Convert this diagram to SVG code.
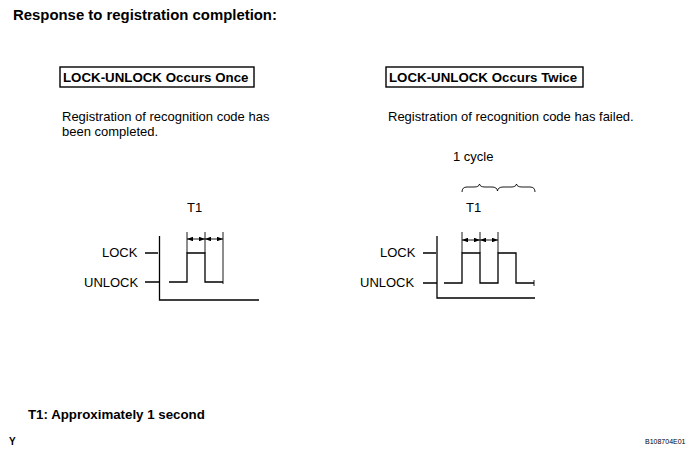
<svg xmlns="http://www.w3.org/2000/svg" width="695" height="456" viewBox="0 0 695 456">
<defs>
<style>
text{font-family:"Liberation Sans",Arial,sans-serif;fill:#000}
.b{font-weight:bold}
.t{font-size:13px}
.bt{font-size:13.3px}
.ln{fill:none;stroke:#000;stroke-width:1.3}
.dim{fill:none;stroke:#000;stroke-width:0.9}
.box{fill:#fff;stroke:#000;stroke-width:1.4}
</style>
<marker id="ah" viewBox="0 0 8 6" refX="8" refY="3" markerWidth="6" markerHeight="4.5" orient="auto-start-reverse" markerUnits="userSpaceOnUse">
<path d="M0,0 L8,3 L0,6 z" fill="#000"/>
</marker>
</defs>
<rect width="695" height="456" fill="#fff"/>
<text id="title" class="b" x="13" y="20" font-size="14.9">Response to registration completion:</text>

<g id="once">
<rect class="box" x="60" y="67" width="194" height="20"/>
<text class="b bt" x="63" y="82">LOCK-UNLOCK Occurs Once</text>
<text class="t" x="62" y="121">Registration of recognition code has</text>
<text class="t" x="62" y="136">been completed.</text>
<text class="t" x="187" y="212">T1</text>
<text class="t" x="102" y="257">LOCK</text>
<text class="t" x="84" y="287">UNLOCK</text>
</g>

<g id="twice">
<rect class="box" x="386" y="67" width="197" height="20"/>
<text class="b bt" x="389" y="82">LOCK-UNLOCK Occurs Twice</text>
<text class="t" x="388" y="121">Registration of recognition code has failed.</text>
<text class="t" x="453" y="161">1 cycle</text>
<text class="t" x="466" y="212">T1</text>
<text class="t" x="380" y="257">LOCK</text>
<text class="t" x="360" y="287">UNLOCK</text>
</g>

<g id="connectors">
<path class="ln" d="M159.5 236 V300 H259"/>
<path class="ln" d="M145 253 H158 M145 282 H159"/>
<path class="ln" d="M169 282 H187 V253 H205 V282 H223"/>
<path class="dim" d="M187 232 V253 M205 232 V253 M223 232 V284"/>
<path class="dim" d="M187 239 H205" marker-start="url(#ah)" marker-end="url(#ah)"/>
<path class="dim" d="M205 239 H223" marker-start="url(#ah)" marker-end="url(#ah)"/>
<path class="ln" d="M437 236 V298 H535"/>
<path class="ln" d="M423 253 H436 M423 283 H437"/>
<path class="ln" d="M444 283 H462 V253 H480 V283 H498 V253 H516 V283 H534"/>
<path class="dim" d="M534 280 V286"/>
<path class="dim" d="M462 232 V253 M480 232 V253 M498 232 V253"/>
<path class="dim" d="M462 240 H480" marker-start="url(#ah)" marker-end="url(#ah)"/>
<path class="dim" d="M480 240 H498" marker-start="url(#ah)" marker-end="url(#ah)"/>
<path class="dim" d="M462 192 Q462 187 467 187 H474 Q479 187 479.5 184 Q480 187 485 187 H492 Q497 187 497.5 191 Q498 187 503 187 H511 Q516 187 516.5 184 Q517 187 522 187 H530 Q535 187 535 192"/>
</g>

<text id="note" class="b bt" x="28" y="419">T1: Approximately 1 second</text>
<text id="y" class="b" x="9" y="445" font-size="10">Y</text>
<text id="code" x="645" y="444" font-size="7">B108704E01</text>
</svg>
